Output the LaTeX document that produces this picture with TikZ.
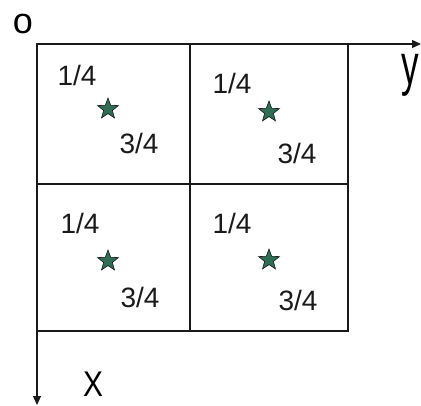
\documentclass[tikz,border=0pt]{standalone}
\usepackage{fontspec}
\setmainfont{Liberation Sans}
\usepackage{tikz}
\usetikzlibrary{arrows.meta,shapes.geometric}
\definecolor{ink}{HTML}{1A1A1A}
\definecolor{stargreen}{HTML}{2F6E55}
\tikzset{axisline/.style={-{Triangle[length=9pt,width=8pt]},draw=ink,line width=1.3pt},gridline/.style={draw=ink,line width=1.3pt},frac/.style={font=\fontsize{28}{30}\selectfont,text=ink,inner sep=0pt,anchor=base},mark star/.style={star,star points=5,star point ratio=2.4,minimum size=22pt,inner sep=0pt,fill=stargreen,draw=ink,line width=.6pt}}

\begin{document}
\begin{tikzpicture}[x=1pt,y=-1pt]
\useasboundingbox (0,0) rectangle (421,405);
\coordinate (o) at (37,44);\coordinate (yend) at (421,44);\coordinate (xend) at (37,405);
\draw[gridline] (37,44) rectangle (348,331);
\draw[gridline] (190,44)--(190,331);\draw[gridline] (37,184)--(348,184);
\draw[axisline] (o)--(yend);\draw[axisline] (o)--(xend);
\node[font=\fontsize{36}{38}\selectfont,inner sep=0pt,anchor=base] (olab) at (23,33) {o};
\node[font=\fontsize{44}{46}\selectfont,inner sep=0pt,anchor=base] (ylab) at (410,84) {\scalebox{0.8}[1.3]{y}};
\node[font=\fontsize{34}{36}\selectfont,inner sep=0pt,anchor=base] (xlab) at (93,396) {\scalebox{0.88}[1.05]{X}};
% top row
\node[frac] (a1) at (77,85) {1/4};
\node[mark star] (s1) at (108,109) {};
\node[frac] (b1) at (139,153) {3/4};
\node[frac] (a2) at (232,93) {1/4};
\node[mark star] (s2) at (269,112) {};
\node[frac] (b2) at (297,163) {3/4};
% bottom row
\node[frac] (a3) at (80,233) {1/4};
\node[mark star] (s3) at (108,261) {};
\node[frac] (b3) at (140,307) {3/4};
\node[frac] (a4) at (232,233) {1/4};
\node[mark star] (s4) at (269,260) {};
\node[frac] (b4) at (298,310) {3/4};
\end{tikzpicture}
\end{document}
